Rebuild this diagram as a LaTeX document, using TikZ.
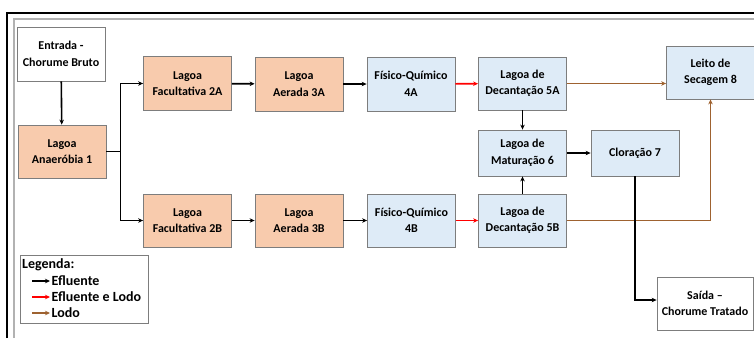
\documentclass[tikz,border=0pt]{standalone}
\usepackage{fontspec}
\setmainfont{Carlito}
\usepackage{tikz}
\usetikzlibrary{arrows.meta, positioning}
\definecolor{lagoaorange}{RGB}{248, 203, 173}
\definecolor{fqblue}{RGB}{222, 235, 247}
\definecolor{lodobrown}{RGB}{158, 98, 48}
\definecolor{boxgray}{RGB}{125, 125, 125}

\tikzset{
  unit/.style={draw=boxgray, line width=0.8pt, minimum width=88pt,
    minimum height=54pt, align=center, inner sep=1pt,
    font=\fontsize{12}{16.5}\selectfont\bfseries},
  lagoa/.style={unit, fill=lagoaorange},
  fq/.style={unit, fill=fqblue},
  ends/.style={unit, fill=white},
  eflu/.style={line width=1.6pt, -{Stealth[length=5pt, width=4.5pt]}},
  efllodo/.style={eflu, red},
  lodo/.style={eflu, lodobrown},
}

\begin{document}
\begin{tikzpicture}[x=1pt, y=-1pt]
    \useasboundingbox (0,0) rectangle (754,338);
    % frame
    \draw[line width=2.5pt] (7,338) -- (7,13) -- (754,13);
    \draw[gray!60, line width=1.5pt] (14,338) -- (14,19) -- (754,19);
    % boxes
    \node[ends] (entrada) at (61,54) {Entrada -\\Chorume Bruto};
    \node[lagoa, minimum height=53pt] (anaer) at (62,151.5) {Lagoa\\Anaeróbia  1};
    \node[lagoa] (fac2A) at (187.5,83.5) {Lagoa\\Facultativa  2A};
    \node[lagoa] (aer3A) at (299,84) {Lagoa\\Aerada 3A};
    \node[fq] (fq4A) at (411,84) {Físico-Químico\\4A};
    \node[fq, minimum height=53pt] (dec5A) at (522.5,83.5) {Lagoa de\\Decantação 5A};
    \node[fq, minimum height=46pt] (mat6) at (522.5,153) {Lagoa de\\Maturação 6};
    \node[fq, minimum height=46pt] (clor7) at (635,153) {Cloração 7};
    \node[fq, minimum height=53pt] (seca8) at (710.5,72.5) {Leito de\\Secagem 8};
    \node[lagoa, minimum height=53pt] (fac2B) at (187.5,220.5) {Lagoa\\Facultativa  2B};
    \node[lagoa, minimum height=53pt] (aer3B) at (299,220.5) {Lagoa\\Aerada 3B};
    \node[fq, minimum height=53pt] (fq4B) at (411.5,220.5) {Físico-Químico\\4B};
    \node[fq, minimum height=53pt] (dec5B) at (522.5,220.5) {Lagoa de\\Decantação 5B};
    \node[ends, minimum width=96pt, minimum height=53pt] (saida) at (705,303.5) {Saída –\\Chorume  Tratado};
    % effluent
    \draw[eflu] (entrada) -- (anaer);
    \draw[line width=1.6pt] (anaer.east) -- ++(14,0) coordinate (split);
    \draw[eflu] (split) |- (fac2A.west);
    \draw[eflu] (split) |- (fac2B.west);
    \draw[eflu] (fac2A) -- (aer3A);
    \draw[eflu] (aer3A) -- (fq4A);
    \draw[eflu] (fac2B) -- (aer3B);
    \draw[eflu] (aer3B) -- (fq4B);
    \draw[efllodo] (fq4A) -- (dec5A);
    \draw[efllodo] (fq4B) -- (dec5B);
    \draw[eflu] (dec5A) -- (mat6);
    \draw[eflu] (dec5B) -- (mat6);
    \draw[eflu] (mat6) -- (clor7);
    % sludge
    \draw[lodo] (dec5A.east) -- (dec5A.east -| seca8.west);
    \draw[lodo] (dec5B.east) -| (seca8.south);
    % treated output
    \draw[eflu] (clor7.south) |- ([yshift=3.5pt]saida.west);
    % legend
    \node[draw=boxgray, line width=0.8pt, minimum width=128pt,
      minimum height=68pt] (legend) at (84,289) {};
    \node[anchor=west, inner sep=1pt, font=\fontsize{14}{16}\selectfont\bfseries]
      (legtitle) at (21,265) {Legenda:};
    \foreach \yy/\sty/\txt in {281/eflu/Efluente, 297/efllodo/Efluente e Lodo,
                               313/lodo/Lodo}
      \draw[\sty, line width=1.2pt] (32,\yy) -- (50,\yy)
        node[right, inner sep=1pt, black, font=\fontsize{14}{16}\selectfont\bfseries]{\txt};
  \end{tikzpicture}
\end{document}
